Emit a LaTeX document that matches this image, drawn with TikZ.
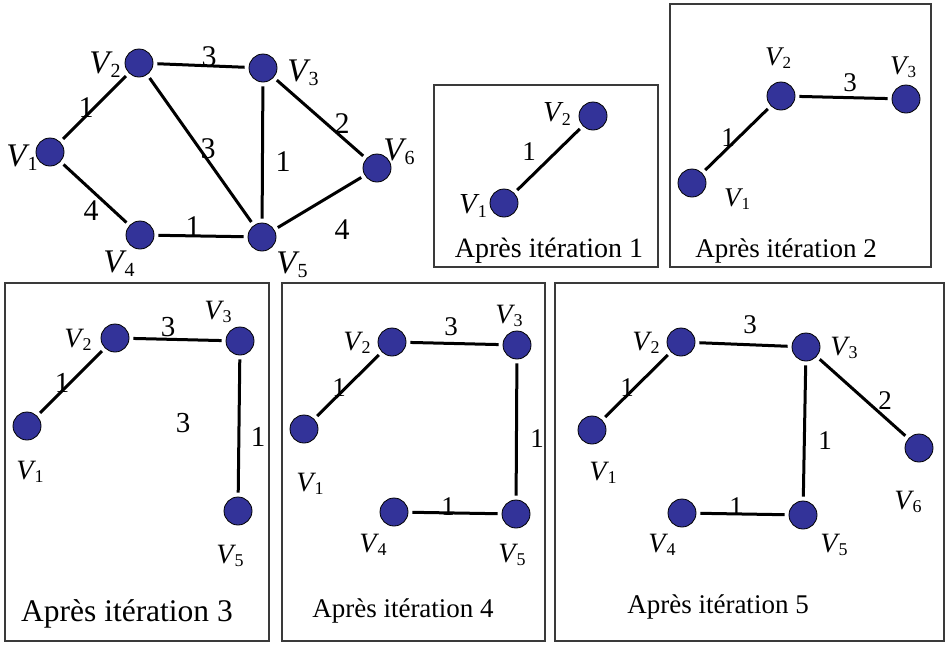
\documentclass[tikz,border=0pt]{standalone}
\usepackage{fontspec}
\setmainfont{Liberation Serif}
\definecolor{nodeblue}{HTML}{333399}
\definecolor{boxgray}{HTML}{3A3A3A}
\newcommand{\Vn}[4]{{\fontsize{#1}{#1}\selectfont\itshape V}\kern1pt\raisebox{-#3}{\fontsize{#2}{#2}\selectfont #4}}
\newcommand{\VM}[1]{\Vn{33}{20}{4pt}{#1}}
\newcommand{\VA}[1]{\Vn{29}{18}{4pt}{#1}}
\newcommand{\VB}[1]{\Vn{27}{17}{3pt}{#1}}
\newcommand{\VC}[1]{\Vn{28}{18}{3pt}{#1}}
\tikzset{
  vtx/.style={circle, fill=nodeblue, draw=black, line width=0.8pt, minimum size=28pt, inner sep=0pt},
  edge/.style={line width=3pt, black, shorten <=4pt, shorten >=4pt},
  lab/.style={inner sep=0pt},
  frame/.style={draw=boxgray, line width=1.3pt},
  capt/.style={inner sep=0pt, anchor=base},
}
\begin{document}
\begin{tikzpicture}[x=1pt,y=-1pt]
\useasboundingbox (0,0) rectangle (949,646);
% frames
\draw[frame] (434,85) rectangle (658,267);
\draw[frame] (670,4) rectangle (931,267);
\draw[frame] (5,283) rectangle (269,641);
\draw[frame] (282,283) rectangle (545,641);
\draw[frame] (555,283) rectangle (944,641);

% ---------- main graph ----------
\node[vtx] (m1) at (50,152) {};
\node[vtx] (m2) at (139,63) {};
\node[vtx] (m3) at (263,68) {};
\node[vtx] (m4) at (140,235) {};
\node[vtx] (m5) at (262,237) {};
\node[vtx] (m6) at (377,168) {};
\draw[edge] (m1) -- (m2);
\draw[edge] (m2) -- (m3);
\draw[edge] (m2) -- (m5);
\draw[edge] (m3) -- (m5);
\draw[edge] (m3) -- (m6);
\draw[edge] (m1) -- (m4);
\draw[edge] (m4) -- (m5);
\draw[edge] (m5) -- (m6);
\node[lab] (ml1) at (22,158) {\VM{1}};
\node[lab] (ml2) at (105,65) {\VM{2}};
\node[lab] (ml3) at (303,73) {\VM{3}};
\node[lab] (ml4) at (119,264) {\VM{4}};
\node[lab] (ml5) at (292,265) {\VM{5}};
\node[lab] (ml6) at (399,152) {\VM{6}};
\begin{scope}[font=\fontsize{30}{30}\selectfont]
\node[lab] (mw12) at (86,108) {1};
\node[lab] (mw23) at (209,57) {3};
\node[lab] (mw25) at (208,149) {3};
\node[lab] (mw35) at (283,162) {1};
\node[lab] (mw36) at (342,124) {2};
\node[lab] (mw14) at (91,211) {4};
\node[lab] (mw45) at (193,227) {1};
\node[lab] (mw56) at (342,230) {4};
\end{scope}

% ---------- panel 1 ----------
\node[vtx] (a1) at (504,203) {};
\node[vtx] (a2) at (593,116) {};
\draw[edge] (a1) -- (a2);
\node[lab] (al1) at (473,206) {\VA{1}};
\node[lab] (al2) at (557,114) {\VA{2}};
\node[lab, font=\fontsize{27}{27}\selectfont] (aw12) at (529,152) {1};
\node[capt, font=\fontsize{28}{28}\selectfont] (acap) at (549,257) {Après itération 1};

% ---------- panel 2 ----------
\node[vtx] (b1) at (692,183) {};
\node[vtx] (b2) at (781,96) {};
\node[vtx] (b3) at (906,99) {};
\draw[edge] (b1) -- (b2);
\draw[edge] (b2) -- (b3);
\node[lab] (bl1) at (737,199) {\VB{1}};
\node[lab] (bl2) at (778,58) {\VB{2}};
\node[lab] (bl3) at (903,67) {\VB{3}};
\begin{scope}[font=\fontsize{27}{27}\selectfont]
\node[lab] (bw12) at (728,138) {1};
\node[lab] (bw23) at (850,83) {3};
\end{scope}
\node[capt, font=\fontsize{27}{27}\selectfont] (bcap) at (786,257) {Après itération 2};

% ---------- panel 3 ----------
\node[vtx] (c1) at (27,426) {};
\node[vtx] (c2) at (115,338) {};
\node[vtx] (c3) at (240,341) {};
\node[vtx] (c5) at (238,511) {};
\draw[edge] (c1) -- (c2);
\draw[edge] (c2) -- (c3);
\draw[edge] (c3) -- (c5);
\node[lab] (cl1) at (30,472) {\VC{1}};
\node[lab] (cl2) at (78,340) {\VC{2}};
\node[lab] (cl3) at (218,312) {\VC{3}};
\node[lab] (cl5) at (230,556) {\VC{5}};
\begin{scope}[font=\fontsize{29}{29}\selectfont]
\node[lab] (cw12) at (62,383) {1};
\node[lab] (cw23) at (168,327) {3};
\node[lab] (cw0) at (183,423) {3};
\node[lab] (cw35) at (258,437) {1};
\end{scope}
\node[capt, font=\fontsize{31.5}{31.5}\selectfont] (ccap) at (127,621) {Après itération 3};

% ---------- panel 4 ----------
\node[vtx] (d1) at (304,429) {};
\node[vtx] (d2) at (392,342) {};
\node[vtx] (d3) at (517,345) {};
\node[vtx] (d4) at (394,512) {};
\node[vtx] (d5) at (516,514) {};
\draw[edge] (d1) -- (d2);
\draw[edge] (d2) -- (d3);
\draw[edge] (d3) -- (d5);
\draw[edge] (d4) -- (d5);
\node[lab] (dl1) at (310,484) {\VC{1}};
\node[lab] (dl2) at (357,343) {\VC{2}};
\node[lab] (dl3) at (509,316) {\VC{3}};
\node[lab] (dl4) at (373,545) {\VC{4}};
\node[lab] (dl5) at (512,555) {\VC{5}};
\begin{scope}[font=\fontsize{27}{27}\selectfont]
\node[lab] (dw12) at (339,388) {1};
\node[lab] (dw23) at (451,327) {3};
\node[lab] (dw35) at (537,439) {1};
\node[lab] (dw45) at (448,507) {1};
\end{scope}
\node[capt, font=\fontsize{27}{27}\selectfont] (dcap) at (403,617) {Après itération 4};

% ---------- panel 5 ----------
\node[vtx] (e1) at (592,430) {};
\node[vtx] (e2) at (681,342) {};
\node[vtx] (e3) at (806,347) {};
\node[vtx] (e4) at (682,513) {};
\node[vtx] (e5) at (803,515) {};
\node[vtx] (e6) at (919,448) {};
\draw[edge] (e1) -- (e2);
\draw[edge] (e2) -- (e3);
\draw[edge] (e3) -- (e5);
\draw[edge] (e3) -- (e6);
\draw[edge] (e4) -- (e5);
\node[lab] (el1) at (603,473) {\VC{1}};
\node[lab] (el2) at (646,343) {\VC{2}};
\node[lab] (el3) at (844,348) {\VC{3}};
\node[lab] (el4) at (662,545) {\VC{4}};
\node[lab] (el5) at (834,545) {\VC{5}};
\node[lab] (el6) at (908,502) {\VC{6}};
\begin{scope}[font=\fontsize{27}{27}\selectfont]
\node[lab] (ew12) at (627,388) {1};
\node[lab] (ew23) at (750,325) {3};
\node[lab] (ew36) at (885,401) {2};
\node[lab] (ew35) at (825,441) {1};
\node[lab] (ew45) at (736,507) {1};
\end{scope}
\node[capt, font=\fontsize{27}{27}\selectfont] (ecap) at (718,613) {Après itération 5};
\end{tikzpicture}
\end{document}
